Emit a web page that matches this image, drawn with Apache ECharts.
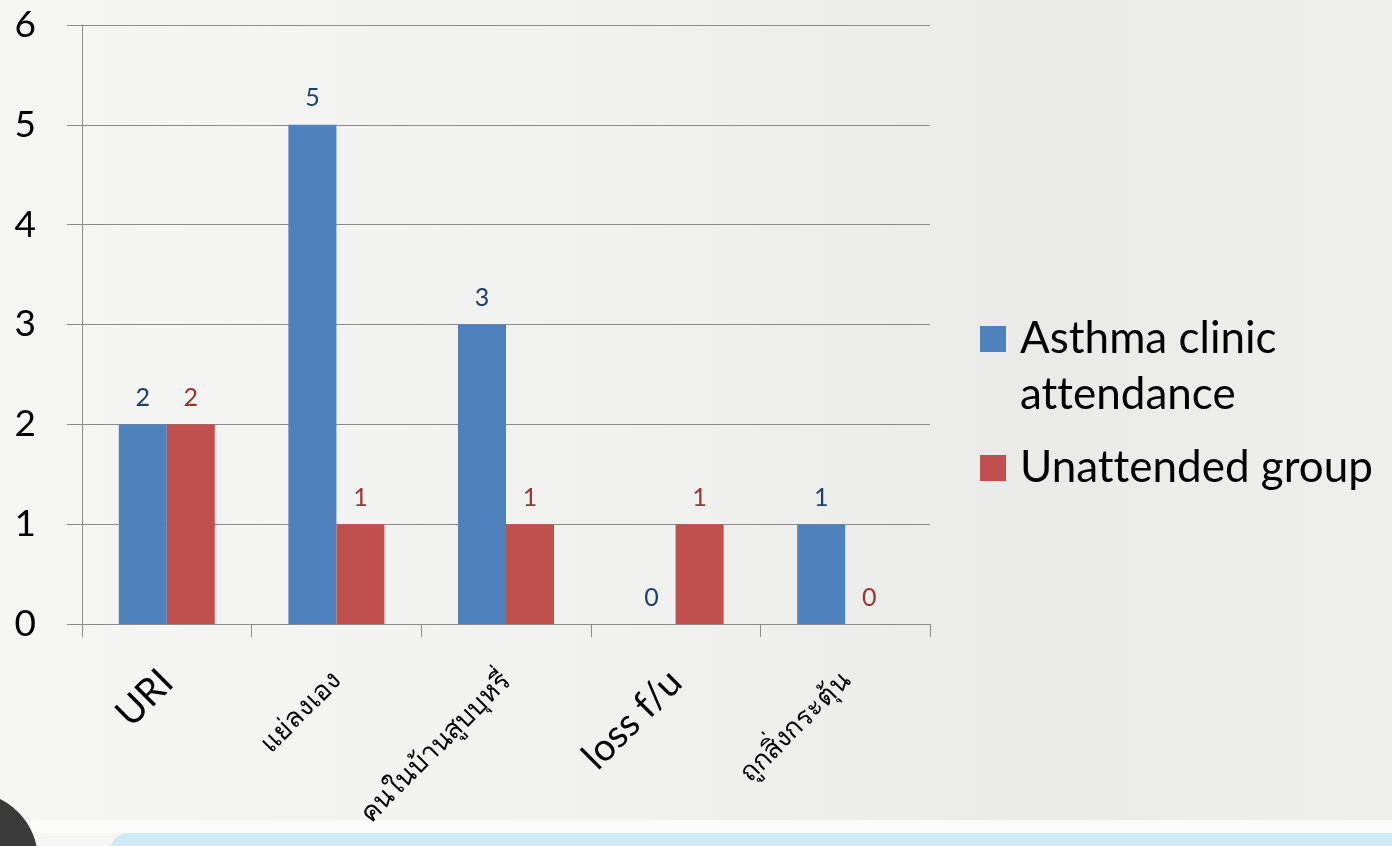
<!DOCTYPE html>
<html>
<head>
<meta charset="utf-8">
<style>
  html, body { margin: 0; padding: 0; }
  #chart { width: 1392px; height: 846px; }
</style>
<script src="https://cdn.jsdelivr.net/npm/echarts@6/dist/echarts.min.js"></script>
</head>
<body>
<div id="chart"></div>
<script>
// Reasons for asthma exacerbation, by clinic attendance
const categories = ['URI', 'แย่ลงเอง', 'คนในบ้านสูบบุหรี่', 'loss f/u', 'ถูกสิ่งกระตุ้น'];
const seriesNames = ['Asthma clinic attendance', 'Unattended group'];
const attendedValues = [2, 5, 3, 0, 1];
const unattendedValues = [2, 1, 1, 1, 0];
const yTicks = [0, 1, 2, 3, 4, 5, 6];

const FONT = 'Lato, "Noto Sans", sans-serif';
const BLUE = '#4F81BD';
const RED = '#C0504D';
const GRID_GRAY = '#8c8c8c';

// Latin labels are set larger than the Thai ones
const latinLabels = new Set(['URI', 'loss f/u']);
const xData = categories.map(c => ({
  value: c,
  textStyle: latinLabels.has(c) ? { fontSize: 38 } : { fontSize: 27 }
}));

// keep "tt" as two separate letters (no ligature)
const noLig = s => s.replace(/tt/g, 't\u200Ct');

const chart = echarts.init(document.getElementById('chart'));

const legendText = { fontFamily: FONT, fontSize: 44, color: '#000', lineHeight: 56, padding: [0, 0, 0, 9] };

chart.setOption({
  backgroundColor: {
    type: 'linear', x: 0, y: 0, x2: 1, y2: 0,
    colorStops: [
      { offset: 0, color: '#f6f6f5' },
      { offset: 0.45, color: '#f1f1f0' },
      { offset: 0.75, color: '#eaeae9' },
      { offset: 1, color: '#efefee' }
    ]
  },
  animation: false,
  textStyle: { fontFamily: FONT },
  graphic: [
    // slide footer band
    { type: 'rect', shape: { x: 0, y: 820, width: 1392, height: 13 }, style: { fill: '#fbfbfa' }, silent: true, z: -10 },
    { type: 'rect', shape: { x: 110, y: 833, width: 1300, height: 40, r: 18 }, style: { fill: '#cfeaf7' }, silent: true, z: -10 },
    { type: 'circle', shape: { cx: -30, cy: 860, r: 68 }, style: { fill: '#3a3a3a' }, silent: true, z: -10 }
  ],
  grid: { left: 82, right: 462, top: 25, bottom: 222, containLabel: false },
  legend: [
    {
      data: [seriesNames[0]],
      orient: 'vertical',
      left: 980, top: 255,
      padding: 0,
      itemWidth: 26, itemHeight: 26,
      icon: 'rect',
      // blank first line keeps the icon level with the first text line
      formatter: () => ' \nAsthma clinic\n' + noLig('attendance'),
      textStyle: legendText
    },
    {
      data: [seriesNames[1]],
      orient: 'vertical',
      left: 980, top: 440,
      padding: 0,
      itemWidth: 26, itemHeight: 26,
      icon: 'rect',
      formatter: name => noLig(name),
      textStyle: legendText
    }
  ],
  xAxis: {
    type: 'category',
    data: xData,
    axisLine: { lineStyle: { color: GRID_GRAY, width: 1 } },
    axisTick: { show: true, length: 13, lineStyle: { color: GRID_GRAY } },
    axisLabel: {
      rotate: 45,
      margin: 52,
      interval: 0,
      color: '#000',
      fontFamily: FONT
    }
  },
  yAxis: {
    type: 'value',
    min: yTicks[0],
    max: yTicks[yTicks.length - 1],
    interval: 1,
    axisLine: { show: true, lineStyle: { color: GRID_GRAY, width: 1 } },
    axisTick: { show: true, inside: false, length: 15, lineStyle: { color: GRID_GRAY } },
    splitLine: { show: true, lineStyle: { color: GRID_GRAY, width: 1 } },
    axisLabel: {
      margin: 46,
      fontSize: 37,
      color: '#000',
      fontFamily: FONT,
      formatter: v => yTicks.includes(v) ? String(v) : ''
    }
  },
  series: [
    {
      name: seriesNames[0],
      type: 'bar',
      data: attendedValues,
      barWidth: 48,
      barGap: '0%',
      itemStyle: { color: BLUE },
      label: { show: true, position: 'top', distance: 14, fontSize: 25, color: '#1F3F6E', fontFamily: FONT }
    },
    {
      name: seriesNames[1],
      type: 'bar',
      data: unattendedValues,
      barWidth: 48,
      barGap: '0%',
      itemStyle: { color: RED },
      label: { show: true, position: 'top', distance: 14, fontSize: 25, color: '#9B3532', fontFamily: FONT }
    }
  ]
});
</script>
</body>
</html>
